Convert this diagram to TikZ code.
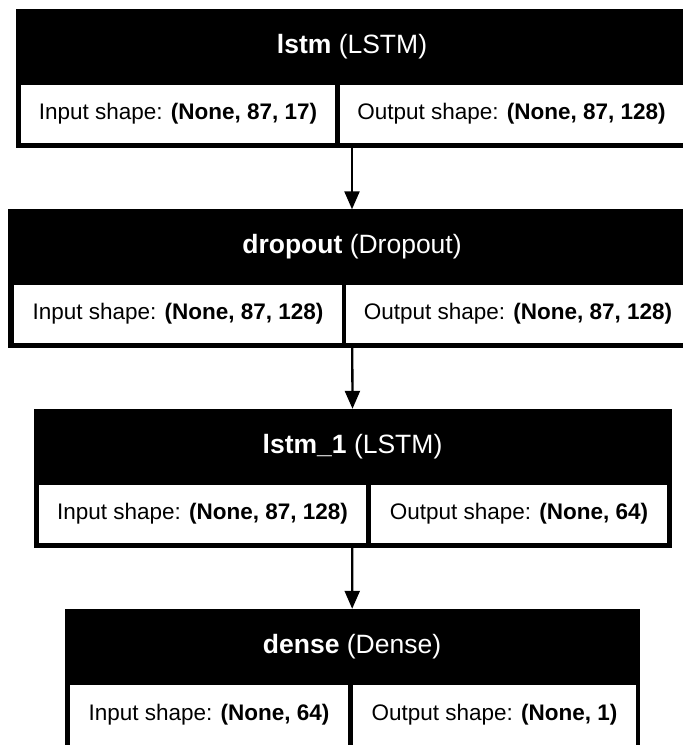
\documentclass[tikz,border=0pt]{standalone}
\usepackage{fontspec}
\setmainfont{Liberation Sans}
\usetikzlibrary{arrows.meta}

\begin{document}
\begin{tikzpicture}
    [x=1pt, y=-1pt, >={Triangle[length=18pt, width=15pt]},
     layer/.style={rectangle, fill=black, draw=black, inner sep=0pt, minimum height=138pt},
     title/.style={text=white, inner sep=0pt, font=\fontsize{26.5}{32}\selectfont},
     cell/.style={rectangle, fill=white, inner sep=0pt, minimum height=58pt, font=\fontsize{22.5}{27}\selectfont},
     flow/.style={->, line width=2.3pt}]
  \useasboundingbox (0,0) rectangle (683,745);
  \clip (0,0) rectangle (683,745);

  % lstm
  \node[layer, minimum width=672pt] (lstm) at (352,78) {};
  \node[title] (lstmname) at (352,47) {\textbf{lstm} (LSTM)};
  \node[cell, minimum width=314pt] (lstmin) at (178,114) {Input shape: \textbf{(None, 87, 17)}};
  \node[cell, minimum width=343pt] (lstmout) at (511.5,114) {Output shape: \textbf{(None, 87, 128)}};

  % dropout
  \node[layer, minimum width=688pt] (dropout) at (352,278.5) {};
  \node[title] (dropoutname) at (352,247) {\textbf{dropout} (Dropout)};
  \node[cell, minimum width=328pt] (dropoutin) at (178,314) {Input shape: \textbf{(None, 87, 128)}};
  \node[cell, minimum width=344pt] (dropoutout) at (518,314) {Output shape: \textbf{(None, 87, 128)}};

  % lstm_1
  \node[layer, minimum width=637pt] (lstmb) at (352.5,478) {};
  \node[title] (lstmbname) at (352.5,446.5) {\textbf{lstm\_1} (LSTM)};
  \node[cell, minimum width=327pt] (lstmbin) at (202.5,513.5) {Input shape: \textbf{(None, 87, 128)}};
  \node[cell, minimum width=296pt] (lstmbout) at (519,513.5) {Output shape: \textbf{(None, 64)}};

  % dense (cut off at the bottom)
  \node[layer, minimum width=574pt, minimum height=146pt] (dense) at (352,682) {};
  \node[title] (densename) at (352,647) {\textbf{dense} (Dense)};
  \node[cell, minimum width=278pt, minimum height=66pt, text height=17pt, text depth=13pt] (densein) at (209,718) {Input shape: \textbf{(None, 64)}};
  \node[cell, minimum width=283pt, minimum height=66pt, text height=17pt, text depth=13pt] (denseout) at (494.5,718) {Output shape: \textbf{(None, 1)}};

  \draw[flow] (lstm) -- (dropout);
  \draw[flow] (dropout) -- (lstmb.north);
  \draw[flow] (lstmb) -- (dense);
\end{tikzpicture}
\end{document}
